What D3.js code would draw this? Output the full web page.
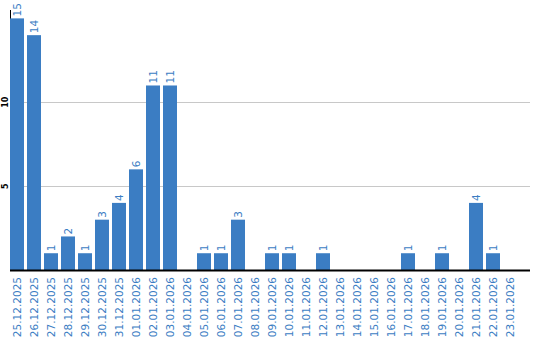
<!DOCTYPE html>
<html>
<head>
<meta charset="utf-8">
<script src="https://cdn.jsdelivr.net/npm/d3@7"></script>
<style>
  body { margin: 0; background: #fff; }
  svg text { font-family: "DejaVu Sans", Verdana, sans-serif; }
</style>
</head>
<body>
<svg id="chart"></svg>
<script>
const dates = ["25.12.2025", "26.12.2025", "27.12.2025", "28.12.2025", "29.12.2025", "30.12.2025",
    "31.12.2025", "01.01.2026", "02.01.2026", "03.01.2026", "04.01.2026", "05.01.2026", "06.01.2026",
    "07.01.2026", "08.01.2026", "09.01.2026", "10.01.2026", "11.01.2026", "12.01.2026", "13.01.2026",
    "14.01.2026", "15.01.2026", "16.01.2026", "17.01.2026", "18.01.2026", "19.01.2026", "20.01.2026",
    "21.01.2026", "22.01.2026", "23.01.2026"];
const counts = [15, 14, 1, 2, 1, 3, 4, 6, 11, 11, 0, 1, 1, 3, 0, 1, 1, 0, 1, 0, 0, 0, 0, 1, 0, 1, 0, 4, 1, 0];
const yTicks = [5, 10];

const width = 540, height = 340;
const plotLeft = 10, plotRight = 530, plotTop = 10, plotBottom = 270;
const blue = "#3b7dc3";

const svg = d3.select("#chart").attr("width", width).attr("height", height);

const x = d3.scaleBand().domain(dates).range([plotLeft, 517]).paddingInner(3 / 17).paddingOuter(0);
const y = d3.scaleLinear().domain([0, 15.5]).range([plotBottom, plotTop]);

// gridlines
svg.append("g").selectAll("line")
    .data(yTicks)
    .join("line")
    .attr("x1", plotLeft).attr("x2", plotRight)
    .attr("y1", d => Math.round(y(d)) + 0.5).attr("y2", d => Math.round(y(d)) + 0.5)
    .attr("stroke", "#c8c8c8").attr("stroke-width", 1);

// y axis line
svg.append("line")
    .attr("x1", plotLeft + 0.5).attr("x2", plotLeft + 0.5)
    .attr("y1", plotTop).attr("y2", plotBottom)
    .attr("stroke", "#000");

// y tick labels
svg.append("g").selectAll("text")
    .data(yTicks)
    .join("text")
    .attr("transform", d => `translate(8, ${y(d)}) rotate(-90)`)
    .attr("text-anchor", "middle")
    .attr("font-size", 8)
    .attr("font-weight", "bold")
    .attr("fill", "#000")
    .text(d => d);

// bars
const data = dates.map((d, i) => ({ date: d, count: counts[i] }));
svg.append("g").selectAll("rect")
    .data(data.filter(d => d.count > 0))
    .join("rect")
    .attr("x", d => x(d.date))
    .attr("y", d => y(d.count))
    .attr("width", x.bandwidth())
    .attr("height", d => plotBottom - y(d.count))
    .attr("fill", blue);

// value labels
svg.append("g").selectAll("text")
    .data(data.filter(d => d.count > 0))
    .join("text")
    .attr("transform", d => `translate(${x(d.date) + x.bandwidth() / 2 + 4}, ${y(d.count) - 2}) rotate(-90)`)
    .attr("font-size", 10.5)
    .attr("fill", blue)
    .text(d => d.count);

// baseline
svg.append("line")
    .attr("x1", plotLeft).attr("x2", plotRight)
    .attr("y1", plotBottom + 0.5).attr("y2", plotBottom + 0.5)
    .attr("stroke", "#000").attr("stroke-width", 2);

// x labels
svg.append("g").selectAll("text")
    .data(dates)
    .join("text")
    .attr("transform", d => `translate(${x(d) + x.bandwidth() / 2 + 4}, ${plotBottom + 7}) rotate(-90)`)
    .attr("text-anchor", "end")
    .attr("font-size", 10.5)
    .attr("fill", blue)
    .text(d => d);
</script>
</body>
</html>
